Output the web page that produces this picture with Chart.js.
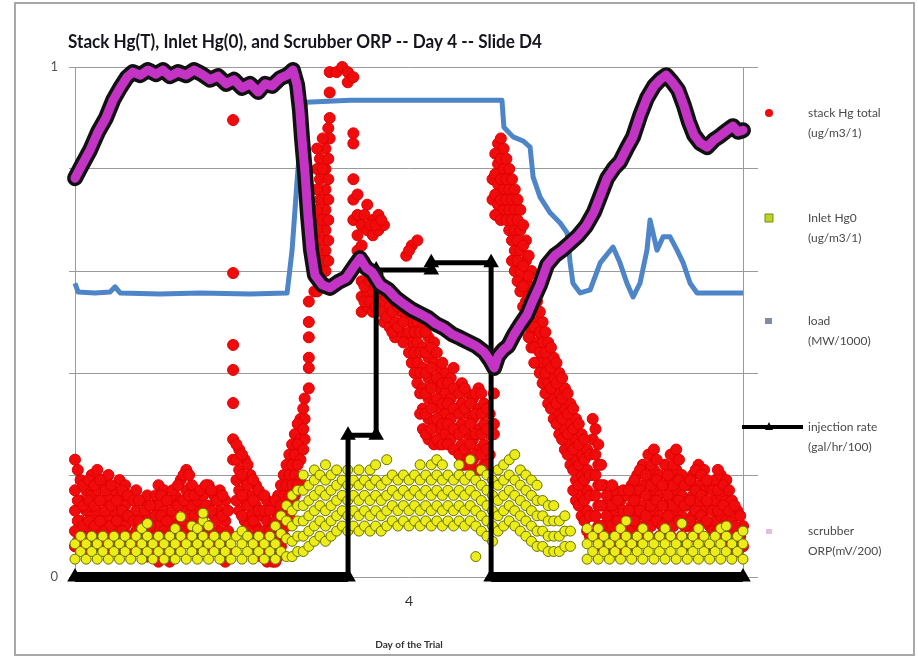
<!DOCTYPE html>
<html><head><meta charset="utf-8">
<script src="https://cdn.jsdelivr.net/npm/chart.js@4.4.1/dist/chart.umd.min.js"></script>
<style>html,body{margin:0;padding:0;background:#fff;}canvas{display:block;}</style>
</head><body>
<canvas id="c" width="918" height="658" style="width:918px;height:658px"></canvas>
<script>
// ---------- DATA (x = hour of the day, y = scaled value) ----------
const titleText = 'Stack Hg(T), Inlet Hg(0), and Scrubber ORP -- Day 4 -- Slide D4';
const xTickValues = [12];
const xTickLabels = ['4'];
const yTickValues = [0, 0.2, 0.4, 0.6, 0.8, 1];
const yTickLabels = ['0', '', '', '', '', '1'];
const seriesNames = ['stack Hg total', 'Inlet Hg0', 'load', 'injection rate', 'scrubber'];
const seriesUnits = ['(ug/m3/1)', '(ug/m3/1)', '(MW/1000)', '(gal/hr/100)', 'ORP(mV/200)'];

// stack Hg total: readings as columns [hour, values...]
const stackHgCols = [
 [0.0,0.23,0.17,0.13,0.09,0.06],[0.2,0.19,0.15,0.11,0.07],[0.4,0.17,0.13,0.09,0.05],[0.6,0.2,0.16,0.12,0.08],
 [0.8,0.21,0.17,0.13,0.09,0.06],[1.0,0.19,0.15,0.11,0.07],[1.2,0.2,0.16,0.12,0.08,0.05],[1.4,0.17,0.13,0.09,0.06],
 [1.6,0.19,0.15,0.11,0.07],[1.8,0.18,0.14,0.1,0.06],[2.0,0.16,0.12,0.08,0.05],[2.2,0.17,0.13,0.09],
 [2.4,0.15,0.11,0.07],[2.6,0.16,0.12,0.08,0.04],[2.8,0.14,0.1,0.06],[3.0,0.18,0.14,0.1,0.06,0.03],
 [3.2,0.17,0.13,0.09,0.05],[3.4,0.15,0.11,0.07,0.03],[3.6,0.16,0.12,0.08],[3.8,0.19,0.15,0.11,0.07],
 [4.0,0.21,0.17,0.13,0.09],[4.2,0.18,0.14,0.1,0.06],[4.4,0.15,0.11,0.07],[4.6,0.16,0.12,0.08],
 [4.8,0.18,0.14,0.1,0.06],[5.0,0.16,0.12,0.08],[5.2,0.17,0.13,0.09,0.05],[5.4,0.15,0.11,0.07,0.03],
 [5.68,0.896,0.596,0.455,0.406,0.341,0.27,0.23],[5.9,0.25,0.21,0.17,0.13],[6.1,0.23,0.19,0.15,0.11],
 [6.3,0.2,0.16,0.12,0.08],[6.5,0.18,0.14,0.1,0.06],[6.7,0.16,0.12,0.08,0.04],[6.9,0.15,0.11,0.07,0.03],
 [7.1,0.14,0.1,0.06,0.03],[7.3,0.16,0.12,0.08,0.04],[7.5,0.2,0.16,0.12,0.08],[7.7,0.24,0.2,0.16,0.12],
 [7.9,0.28,0.24,0.2,0.16],[8.1,0.31,0.27,0.23,0.19],[8.25,0.35,0.31,0.27],[8.4,0.54,0.5,0.47,0.43,0.41,0.37],
 [8.6,0.68,0.64,0.6,0.56],[8.8,0.82,0.78,0.74,0.7,0.66,0.62,0.58],[9.0,0.84,0.8,0.76,0.72,0.68,0.64,0.6],
 [9.15,0.99,0.95,0.9,0.86],[9.4,0.99],[9.6,1.0],[9.8,0.99,0.97],[10.0,0.98,0.87,0.85,0.78,0.74,0.7],
 [10.15,0.75,0.71,0.67,0.64],[10.3,0.69,0.65,0.58,0.55,0.52],[10.5,0.73,0.68,0.56,0.53],[10.7,0.7,0.67,0.56,0.52],
 [10.9,0.71,0.68,0.55],[11.1,0.69,0.54,0.5],[11.3,0.53,0.49],[11.5,0.54,0.5,0.47],[11.7,0.52,0.48],
 [11.9,0.63,0.51,0.47],[12.1,0.65,0.5,0.46,0.42],[12.3,0.66,0.5,0.46,0.42,0.38],[12.5,0.49,0.45,0.41,0.37,0.33,0.29],
 [12.7,0.47,0.43,0.39,0.35,0.31,0.27],[12.9,0.46,0.42,0.38,0.34,0.3,0.26],[13.1,0.41,0.37,0.33,0.29,0.26],
 [13.3,0.4,0.36,0.32,0.28],[13.5,0.39,0.35,0.31,0.27],[13.7,0.37,0.33,0.29,0.25],[13.9,0.38,0.34,0.3,0.26,0.22],
 [14.1,0.36,0.32,0.28,0.24],[14.3,0.35,0.31,0.27,0.23],[14.5,0.37,0.33,0.29,0.25,0.21],[14.7,0.34,0.3,0.26,0.22],
 [14.9,0.32,0.28,0.24],[15.0,0.78,0.74],[15.05,0.36,0.3,0.28],
 [15.2,0.85,0.81,0.77,0.73],[15.4,0.84,0.8,0.76,0.72],[15.6,0.8,0.76,0.72,0.68],[15.8,0.76,0.72,0.68,0.64,0.6],
 [16.0,0.72,0.68,0.64,0.6,0.56],[16.2,0.66,0.62,0.58,0.54,0.5],[16.4,0.6,0.56,0.52,0.48,0.45],[16.6,0.54,0.5,0.46,0.42],
 [16.8,0.5,0.46,0.42,0.38],[17.0,0.46,0.42,0.38,0.34],[17.2,0.43,0.39,0.35,0.31],[17.4,0.4,0.36,0.32,0.28],
 [17.6,0.37,0.33,0.29,0.25],[17.8,0.34,0.3,0.26,0.22],[18.0,0.31,0.27,0.23,0.19,0.15],[18.2,0.28,0.24,0.2,0.16,0.12],
 [18.4,0.25,0.21,0.17,0.13,0.09],[18.6,0.31,0.27,0.2,0.16,0.12,0.08],[18.8,0.26,0.22,0.18,0.14,0.1],
 [19.0,0.18,0.14,0.1,0.06],[19.2,0.16,0.12,0.08],[19.4,0.17,0.13,0.09,0.05],[19.6,0.15,0.11,0.07],
 [19.8,0.16,0.12,0.08],[20.0,0.18,0.14,0.1,0.06],[20.2,0.2,0.16,0.12,0.08],[20.4,0.22,0.18,0.14,0.1],
 [20.6,0.24,0.2,0.16,0.12,0.08],[20.8,0.25,0.21,0.17,0.13],[21.0,0.2,0.16,0.12,0.08],[21.2,0.22,0.18,0.14,0.1],
 [21.4,0.24,0.2,0.16,0.12,0.08],[21.6,0.25,0.21,0.17,0.13],[21.8,0.2,0.16,0.12,0.08],[22.0,0.18,0.14,0.1],
 [22.2,0.2,0.16,0.12,0.08],[22.4,0.22,0.18,0.14,0.1],[22.6,0.21,0.17,0.13],[22.8,0.18,0.14,0.1,0.06],
 [23.0,0.19,0.15,0.11],[23.2,0.2,0.16,0.12,0.08],[23.4,0.19,0.15,0.11,0.07],[23.6,0.15,0.11,0.07],
 [23.8,0.13,0.09,0.05],[24.0,0.1,0.06]
];
// stack Hg total: readings between the columns above
const stackHgColsB = [
 [0.1,0.21,0.15,0.11,0.07],[0.3,0.18,0.14,0.1,0.06],[0.5,0.19,0.15,0.11,0.07],[0.7,0.18,0.14,0.1,0.06],
 [0.9,0.19,0.15,0.11,0.07],[1.1,0.17,0.13,0.09,0.05],[1.3,0.18,0.14,0.1,0.06],[1.5,0.15,0.11,0.07],
 [1.7,0.17,0.13,0.09,0.05],[1.9,0.16,0.12,0.08],[2.1,0.15,0.11,0.07],[2.3,0.15,0.11,0.07,0.05],
 [2.5,0.13,0.09,0.05],[2.7,0.14,0.1,0.06],[2.9,0.16,0.12,0.08,0.04],[3.1,0.16,0.12,0.08],
 [3.3,0.15,0.11,0.07],[3.5,0.17,0.13,0.09,0.05],[3.7,0.18,0.14,0.1,0.06],[3.9,0.2,0.15,0.11],
 [4.1,0.2,0.16,0.12,0.08],[4.3,0.16,0.12,0.08],[4.5,0.17,0.13,0.09,0.05],[4.7,0.18,0.14,0.1,0.06],
 [4.9,0.17,0.13,0.09],[5.1,0.15,0.11,0.07],[5.3,0.16,0.12,0.08,0.04],[5.5,0.13,0.09,0.05],
 [5.8,0.26,0.23,0.19,0.15],[6.0,0.24,0.2,0.16,0.12],[6.2,0.22,0.18,0.14,0.1],[6.4,0.19,0.15,0.11,0.07],
 [6.6,0.17,0.13,0.09,0.05],[6.8,0.16,0.13,0.09,0.05],[7.0,0.13,0.09,0.05],[7.2,0.15,0.11,0.07,0.03],
 [7.4,0.18,0.14,0.1,0.06],[7.6,0.22,0.18,0.14,0.1],[7.8,0.26,0.22,0.18,0.14],[8.0,0.3,0.26,0.22,0.18],
 [8.2,0.33,0.29,0.25],[8.7,0.84,0.8,0.76,0.72,0.68,0.64,0.6,0.56],[8.9,0.86,0.8,0.74,0.7,0.66,0.62,0.58],
 [9.1,0.88,0.82,0.78,0.74,0.7,0.66,0.62],
 [10.4,0.71,0.62,0.57,0.54],[10.6,0.69,0.58,0.54],[10.8,0.69,0.57,0.53],[11.0,0.7,0.56,0.52],[11.2,0.55,0.51],
 [11.4,0.52,0.48],[11.6,0.53,0.49],[11.8,0.5,0.46],[12.0,0.64,0.52,0.48,0.44],[12.2,0.52,0.48,0.44,0.4],
 [12.4,0.48,0.44,0.4,0.36,0.32],[12.6,0.48,0.44,0.4,0.36,0.32,0.28],[12.8,0.45,0.41,0.37,0.33,0.29],
 [13.0,0.44,0.39,0.35,0.31,0.27],[13.2,0.42,0.38,0.34,0.3,0.26],[13.4,0.38,0.34,0.3,0.26],
 [13.6,0.41,0.37,0.33,0.29,0.25],[13.8,0.36,0.32,0.28,0.24],[14.0,0.37,0.33,0.29,0.25,0.22],
 [14.2,0.34,0.3,0.26,0.22],[14.4,0.36,0.32,0.28,0.24],[14.6,0.36,0.32,0.28,0.24],[14.8,0.33,0.29,0.25,0.22],
 [15.1,0.83,0.79,0.75,0.71],[15.3,0.86,0.82,0.78,0.74,0.7],[15.5,0.82,0.78,0.74,0.7],[15.7,0.78,0.74,0.7,0.66,0.62],
 [15.9,0.74,0.7,0.66,0.62,0.58],[16.1,0.69,0.65,0.61,0.57,0.53],[16.3,0.63,0.59,0.55,0.51,0.47],
 [16.5,0.57,0.53,0.49,0.45,0.42],[16.7,0.52,0.48,0.44,0.4],[16.9,0.48,0.44,0.4,0.36],[17.1,0.45,0.41,0.37,0.33],
 [17.3,0.42,0.38,0.34,0.3],[17.5,0.39,0.35,0.31,0.27],[17.7,0.36,0.32,0.28,0.24],[17.9,0.33,0.29,0.25,0.21,0.17],
 [18.1,0.3,0.26,0.22,0.18,0.14],[18.3,0.27,0.23,0.19,0.15,0.11],[18.5,0.24,0.2,0.16,0.12,0.08],
 [18.7,0.29,0.24,0.2,0.16,0.12,0.08],[18.9,0.22,0.18,0.14,0.1,0.06],
 [19.1,0.16,0.12,0.08],[19.3,0.18,0.14,0.1,0.06],[19.5,0.15,0.11,0.07],[19.7,0.17,0.13,0.09,0.05],
 [19.9,0.17,0.13,0.09],[20.1,0.19,0.15,0.11,0.07],[20.3,0.21,0.17,0.13,0.09],[20.5,0.2,0.16,0.12,0.08],
 [20.7,0.22,0.18,0.14,0.1],[20.9,0.23,0.19,0.15,0.11],[21.1,0.18,0.14,0.1],[21.3,0.2,0.16,0.12,0.08],
 [21.5,0.22,0.18,0.14,0.1],[21.7,0.23,0.19,0.15,0.11],[21.9,0.18,0.14,0.1,0.06],[22.1,0.19,0.15,0.11],
 [22.3,0.21,0.17,0.13,0.09],[22.5,0.2,0.16,0.12,0.08],[22.7,0.19,0.15,0.11],[22.9,0.17,0.13,0.09],
 [23.1,0.21,0.17,0.13,0.09],[23.3,0.18,0.14,0.1],[23.5,0.17,0.13,0.09,0.05],[23.7,0.14,0.1,0.06],[23.9,0.12,0.08]
];

// inlet Hg0: columns [hour, values...]
const inletHgCols = [
 [0.0,0.035,0.065],[0.2,0.05,0.08],[0.4,0.035,0.065],[0.6,0.05,0.08],[0.8,0.035,0.065],[1.0,0.05,0.08],
 [1.2,0.035,0.065],[1.4,0.05,0.08],[1.6,0.035,0.065],[1.8,0.05,0.08],[2.0,0.035,0.065],[2.2,0.05,0.08],
 [2.4,0.035,0.065,0.095],[2.6,0.05,0.08,0.105],[2.8,0.035,0.065],[3.0,0.05,0.08],[3.2,0.035,0.065],[3.4,0.05,0.08],
 [3.6,0.035,0.065,0.095],[3.8,0.05,0.08,0.118],[4.0,0.035,0.065],[4.2,0.05,0.08,0.1],[4.4,0.035,0.065,0.095],
 [4.6,0.05,0.08,0.11,0.125],[4.8,0.035,0.065,0.1],[5.0,0.05,0.08],[5.2,0.035,0.065],[5.4,0.05,0.08],
 [5.6,0.035,0.065],[5.8,0.05,0.08],[6.0,0.035,0.065,0.09],[6.2,0.05,0.08],[6.4,0.035,0.065],[6.6,0.05,0.08],
 [6.8,0.035,0.065],[7.0,0.05,0.08],[7.2,0.035,0.065,0.1],[7.4,0.05,0.085,0.12],[7.6,0.04,0.075,0.11,0.14],
 [7.8,0.04,0.07,0.1,0.13,0.16],[8.0,0.05,0.08,0.11,0.14,0.17],[8.2,0.05,0.08,0.11,0.14,0.17,0.2],
 [8.4,0.06,0.09,0.12,0.15,0.18],[8.6,0.07,0.1,0.13,0.16,0.19,0.21],[8.8,0.08,0.11,0.14,0.17,0.2],
 [9.0,0.07,0.1,0.13,0.16,0.19,0.22],[9.2,0.08,0.11,0.14,0.17,0.2],[9.4,0.09,0.12,0.15,0.18,0.21],
 [9.6,0.1,0.13,0.16,0.19],[9.8,0.09,0.12,0.15,0.18,0.21],[10.0,0.1,0.13,0.16,0.19],[10.2,0.09,0.12,0.15,0.18,0.21],
 [10.4,0.1,0.13,0.16,0.19],[10.6,0.09,0.12,0.15,0.18,0.21],[10.8,0.1,0.13,0.16,0.19,0.22],[11.0,0.09,0.12,0.15,0.18],
 [11.2,0.1,0.13,0.16,0.19,0.23],[11.4,0.11,0.14,0.17,0.2],[11.6,0.1,0.13,0.16,0.19],[11.8,0.11,0.14,0.17,0.2],
 [12.0,0.1,0.13,0.16,0.19],[12.2,0.11,0.14,0.17,0.2],[12.4,0.1,0.13,0.16,0.19,0.22],[12.6,0.11,0.14,0.17,0.2],
 [12.8,0.1,0.13,0.16,0.19,0.22],[13.0,0.11,0.14,0.17,0.2,0.23],[13.2,0.1,0.13,0.16,0.19,0.22],[13.4,0.11,0.14,0.17,0.2],
 [13.6,0.1,0.13,0.16,0.19],[13.8,0.11,0.14,0.17,0.2,0.22],[14.0,0.1,0.13,0.16,0.19],[14.2,0.11,0.14,0.17,0.2,0.23],
 [14.4,0.1,0.13,0.16,0.19,0.04],[14.6,0.09,0.12,0.15,0.18,0.21],[14.8,0.08,0.11,0.14,0.17,0.2],[15.0,0.07,0.1,0.13,0.16,0.19],
 [15.2,0.09,0.12,0.15,0.18,0.21],[15.4,0.1,0.13,0.16,0.19,0.22],[15.6,0.11,0.14,0.17,0.2,0.23],[15.8,0.1,0.13,0.16,0.19,0.24],
 [16.0,0.09,0.12,0.15,0.18,0.21],[16.2,0.08,0.11,0.14,0.17,0.2],[16.4,0.07,0.1,0.13,0.16,0.19],[16.6,0.06,0.09,0.12,0.15,0.18],
 [16.8,0.06,0.09,0.12,0.15],[17.0,0.05,0.08,0.11,0.14],[17.2,0.05,0.08,0.11,0.14],[17.4,0.05,0.08,0.11],
 [17.6,0.06,0.09,0.12],[17.8,0.06,0.09],
 [18.4,0.035,0.065,0.095],[18.6,0.05,0.08],[18.8,0.035,0.065,0.095],[19.0,0.05,0.08],[19.2,0.035,0.065],[19.4,0.05,0.08],
 [19.6,0.035,0.065,0.095],[19.8,0.05,0.08,0.11],[20.0,0.035,0.065],[20.2,0.05,0.08],[20.4,0.035,0.065,0.095],[20.6,0.05,0.08],
 [20.8,0.035,0.065],[21.0,0.05,0.08],[21.2,0.035,0.065,0.095],[21.4,0.05,0.08],[21.6,0.035,0.065],[21.8,0.05,0.08,0.105],
 [22.0,0.035,0.065],[22.2,0.05,0.08],[22.4,0.035,0.065,0.095],[22.6,0.05,0.08],[22.8,0.035,0.065],[23.0,0.05,0.08],
 [23.2,0.035,0.065,0.095],[23.4,0.05,0.08,0.1],[23.6,0.035,0.065],[23.8,0.05,0.08],[24.0,0.035,0.065,0.09]
];

// load (MW/1000)
const loadHours = [0,0.11,0.72,1.26,1.44,1.62,3.05,4.49,6.29,7.62,7.80,7.98,8.16,8.30,9.88,11.68,13.47,15.34,15.41,15.74,16.10,16.35,16.46,16.71,17.07,17.43,17.68,17.79,17.89,18.15,18.51,18.87,19.33,19.58,19.83,20.05,20.30,20.55,20.66,20.91,21.13,21.38,21.63,21.85,22.10,22.35,24.00];
const loadValues = [0.576,0.559,0.557,0.559,0.569,0.557,0.555,0.557,0.555,0.557,0.641,0.778,0.896,0.931,0.935,0.935,0.935,0.935,0.882,0.863,0.855,0.843,0.784,0.745,0.714,0.694,0.675,0.616,0.576,0.557,0.563,0.616,0.647,0.616,0.576,0.549,0.576,0.641,0.700,0.641,0.667,0.667,0.641,0.616,0.576,0.557,0.557];

// injection rate (gal/hr/100)
const injHours = [0,9.81,9.81,10.82,10.82,12.8,12.8,14.95,14.95,24];
const injValues = [0,0,0.278,0.278,0.602,0.602,0.616,0.616,0,0];

// scrubber ORP (mV/200)
const orpHours = [0,0.25,0.54,0.83,1.11,1.37,1.62,1.87,2.08,2.34,2.62,2.91,3.16,3.41,3.70,3.99,4.28,4.56,4.85,5.14,5.43,5.71,6.00,6.29,6.58,6.83,7.08,7.37,7.62,7.83,7.98,8.08,8.16,8.27,8.37,8.48,8.62,8.88,9.16,9.45,9.74,9.99,10.24,10.46,10.67,10.96,11.25,11.53,11.82,12.11,12.40,12.68,12.97,13.26,13.55,13.83,14.12,14.41,14.70,14.91,15.06,15.20,15.38,15.56,15.77,15.99,16.24,16.46,16.71,16.96,17.25,17.50,17.79,18.07,18.36,18.65,18.87,19.12,19.37,19.58,19.83,20.05,20.30,20.55,20.81,21.02,21.24,21.45,21.67,21.88,22.06,22.24,22.46,22.71,22.96,23.18,23.43,23.64,23.82,24.00];
const orpValues = [0.782,0.808,0.837,0.873,0.900,0.935,0.959,0.980,0.990,0.984,0.994,0.986,0.994,0.982,0.990,0.984,0.994,0.986,0.975,0.982,0.967,0.975,0.959,0.967,0.951,0.967,0.963,0.978,0.984,0.994,0.965,0.916,0.857,0.788,0.710,0.641,0.592,0.573,0.567,0.578,0.586,0.606,0.625,0.606,0.598,0.573,0.563,0.547,0.535,0.524,0.516,0.508,0.496,0.488,0.476,0.469,0.461,0.453,0.441,0.425,0.410,0.433,0.445,0.453,0.475,0.494,0.514,0.543,0.573,0.612,0.631,0.641,0.655,0.669,0.688,0.716,0.747,0.782,0.802,0.814,0.841,0.863,0.904,0.939,0.963,0.975,0.984,0.971,0.955,0.924,0.892,0.867,0.851,0.843,0.857,0.865,0.876,0.884,0.873,0.876];

// ---------- build ----------
const fromCols = cols => { const out = []; cols.forEach(r => { for (let i = 1; i < r.length; i++) out.push({x: r[0], y: r[i]}); }); return out; };
const pairs = (xs, ys) => xs.map((x, i) => ({x, y: ys[i]}));

const C = {
  red: 'rgb(240,12,12)', yellow: 'rgb(236,236,22)', yellowEdge: 'rgb(105,112,0)',
  blue: 'rgb(78,132,200)', black: '#000', magenta: 'rgb(196,52,196)', grid: '#9a9a9a'
};

const deco = {
  id: 'deco',
  beforeDraw(chart) {
    const c = chart.ctx; c.save(); c.fillStyle = '#fff'; c.fillRect(0, 0, chart.width, chart.height); c.restore();
  },
  afterDraw(chart) {
    const c = chart.ctx; c.save();
    c.strokeStyle = '#a8a8a8'; c.lineWidth = 2; c.strokeRect(15, 3, 899, 652);
    // title
    c.font = 'bold 18px "Liberation Sans Narrow", Lato, sans-serif';
    c.fillStyle = '#15151f'; c.textBaseline = 'alphabetic'; c.textAlign = 'left';
    const w = c.measureText(titleText).width; const sx = Math.min(1, 474 / w);
    c.save(); c.translate(68, 48); c.scale(sx, 1); c.fillText(titleText, 0, 0); c.restore();
    // legend
    const ys = [113, 218, 321, 427, 531];
    const mx = 769, tx = 808;
    c.fillStyle = C.red; c.beginPath(); c.arc(mx, ys[0], 4, 0, Math.PI * 2); c.fill();
    c.fillStyle = 'rgb(190,210,40)'; c.strokeStyle = 'rgb(120,140,20)'; c.lineWidth = 1;
    c.beginPath(); c.rect(mx - 4, ys[1] - 4, 8, 8); c.fill(); c.stroke();
    c.fillStyle = 'rgb(130,140,160)'; c.fillRect(mx - 4, ys[2] - 3, 7, 6);
    c.strokeStyle = '#000'; c.lineWidth = 4; c.beginPath(); c.moveTo(742, ys[3]); c.lineTo(803, ys[3]); c.stroke();
    c.fillStyle = '#000'; c.beginPath(); c.moveTo(mx, ys[3] - 5); c.lineTo(mx + 4, ys[3] + 3); c.lineTo(mx - 4, ys[3] + 3); c.closePath(); c.fill();
    c.fillStyle = 'rgb(225,190,225)'; c.fillRect(mx - 3, ys[4] - 2, 6, 5);
    c.font = '12px Lato, sans-serif'; c.fillStyle = '#4a4a4a'; c.textBaseline = 'middle';
    seriesNames.forEach((n, i) => { c.fillText(n, tx, ys[i]); c.fillText(seriesUnits[i], tx, ys[i] + 20); });
    c.restore();
  }
};

new Chart(document.getElementById('c'), {
  type: 'scatter',
  data: {
    datasets: [
      { label: 'scrubber ORP', data: pairs(orpHours, orpValues), showLine: true, borderColor: C.magenta, borderWidth: 9, pointRadius: 0, order: 0, clip: false, borderJoinStyle: 'round', borderCapStyle: 'round' },
      { label: 'orp outline', data: pairs(orpHours, orpValues), showLine: true, borderColor: '#111', borderWidth: 16, pointRadius: 0, order: 1, clip: false, borderJoinStyle: 'round', borderCapStyle: 'round' },
      { label: 'injection rate', data: pairs(injHours, injValues), showLine: true, borderColor: C.black, borderWidth: 5,
        segment: { borderWidth: s => (s.p0.parsed.y === 0 && s.p1.parsed.y === 0) ? 10 : 5 },
        pointStyle: 'triangle', pointRadius: 4, pointBackgroundColor: '#000', pointBorderColor: '#000', order: 2, clip: false },
      { label: 'load', data: pairs(loadHours, loadValues), showLine: true, borderColor: C.blue, borderWidth: 5, pointRadius: 0, order: 3, clip: false, borderJoinStyle: 'round' },
      { label: 'inlet Hg0', data: fromCols(inletHgCols), pointRadius: 5, pointBackgroundColor: C.yellow, pointBorderColor: C.yellowEdge, pointBorderWidth: 1, order: 4, clip: false },
      { label: 'stack Hg total', data: fromCols(stackHgCols).concat(fromCols(stackHgColsB)), pointRadius: 5.5, pointBackgroundColor: C.red, pointBorderColor: 'rgb(225,0,0)', pointBorderWidth: 1, order: 5, clip: false }
    ]
  },
  options: {
    responsive: false, animation: false, devicePixelRatio: 1,
    layout: { padding: { left: 0, right: 160, top: 67, bottom: 0 } },
    plugins: { legend: { display: false }, tooltip: { enabled: false }, title: { display: false } },
    scales: {
      x: {
        type: 'linear', min: 0, max: 24,
        afterBuildTicks: s => { s.ticks = xTickValues.map(v => ({ value: v })); },
        afterFit: s => { s.height = 81; },
        ticks: { callback: (v, i) => xTickLabels[i], padding: 16, font: { family: 'Lato', size: 14 }, color: '#333', maxRotation: 0, autoSkip: false },
        grid: { display: false, drawTicks: false }, border: { display: false },
        title: { display: true, text: 'Day of the Trial', font: { family: 'Lato', size: 10, weight: 'bold' }, color: '#333', padding: { top: 0, bottom: 7 } }
      },
      y: {
        min: 0, max: 1,
        afterBuildTicks: s => { s.ticks = yTickValues.map(v => ({ value: v })); },
        afterFit: s => { s.width = 75; },
        ticks: { callback: (v, i) => yTickLabels[i], padding: 11, font: { family: 'Lato', size: 13 }, color: '#555' },
        grid: { color: C.grid, tickLength: 6, lineWidth: 1 }, border: { display: true, color: C.grid }
      },
      y2: {
        position: 'right', min: 0, max: 1,
        afterBuildTicks: s => { s.ticks = yTickValues.map(v => ({ value: v })); },
        afterFit: s => { s.width = 15; },
        ticks: { display: false },
        grid: { color: C.grid, tickLength: 15, drawOnChartArea: false }, border: { display: true, color: C.grid }
      }
    }
  },
  plugins: [deco]
});
</script>
</body></html>
